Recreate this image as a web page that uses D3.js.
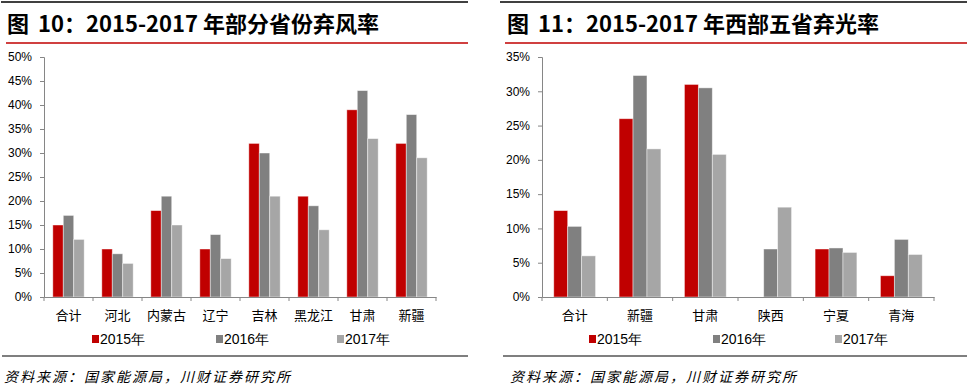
<!DOCTYPE html>
<html>
<head>
<meta charset="utf-8">
<script src="https://cdn.jsdelivr.net/npm/d3@7"></script>
<style>
  body { margin: 0; background: #fff; }
  svg { display: block; }
</style>
</head>
<body>
<svg id="chart" width="969" height="389"></svg>
<script>
// ---- data ----
const years = ["2015年", "2016年", "2017年"];

const windCats = ["合计", "河北", "内蒙古", "辽宁", "吉林", "黑龙江", "甘肃", "新疆"];
const wind2015 = [15, 10, 18, 10, 32, 21, 39, 32];
const wind2016 = [17, 9, 21, 13, 30, 19, 43, 38];
const wind2017 = [12, 7, 15, 8, 21, 14, 33, 29];
const windTicks = [0, 5, 10, 15, 20, 25, 30, 35, 40, 45, 50];

const solarCats = ["合计", "新疆", "甘肃", "陕西", "宁夏", "青海"];
const solar2015 = [12.6, 26.0, 31.0, null, 7.0, 3.1];
const solar2016 = [10.3, 32.3, 30.5, 7.0, 7.15, 8.4];
const solar2017 = [6.0, 21.6, 20.8, 13.1, 6.5, 6.2];
const solarTicks = [0, 5, 10, 15, 20, 25, 30, 35];

const colors = ["#C00000", "#808080", "#A6A6A6"];
const sourceText = "资料来源：国家能源局，川财证券研究所";

const svg = d3.select("#chart");

function drawPanel(p) {
  const g = svg.append("g");

  // header rules + title
  g.append("line")
    .attr("x1", p.ruleLeft).attr("x2", p.ruleRight)
    .attr("y1", 2).attr("y2", 2)
    .attr("stroke", "#000").attr("stroke-width", 1.5);

  g.append("text")
    .attr("x", p.titleX).attr("y", 32)
    .attr("font-family", "Noto Sans CJK SC")
    .attr("font-weight", "bold")
    .attr("font-size", "22px")
    .attr("fill", "#000")
    .text("图");

  g.append("text")
    .attr("x", p.titleX + 31).attr("y", 32)
    .attr("font-family", "Noto Sans CJK SC")
    .attr("font-weight", "bold")
    .attr("font-size", "22px")
    .attr("fill", "#000")
    .text(p.title);

  g.append("line")
    .attr("x1", p.redLeft).attr("x2", p.ruleRight)
    .attr("y1", 43).attr("y2", 43)
    .attr("stroke", "#C00000").attr("stroke-width", 1.5);

  // scales
  const x0 = d3.scaleBand()
    .domain(p.cats)
    .range([p.axisLeft, p.axisRight])
    .paddingInner(0).paddingOuter(0);

  const pad = x0.bandwidth() * 0.18;
  const x1 = d3.scaleBand()
    .domain(years)
    .range([pad, x0.bandwidth() - pad]);

  const y = d3.scaleLinear()
    .domain([0, p.yMax])
    .range([297, 57]);

  // bars
  const rows = [];
  p.cats.forEach((c, i) => {
    p.series.forEach((s, j) => {
      if (s[i] == null) return;
      rows.push({ cat: c, year: years[j], value: s[i], color: colors[j] });
    });
  });

  g.append("g").selectAll("rect")
    .data(rows)
    .join("rect")
    .attr("x", d => x0(d.cat) + x1(d.year))
    .attr("y", d => y(d.value))
    .attr("width", x1.bandwidth())
    .attr("height", d => y(0) - y(d.value))
    .attr("fill", d => d.color)
    .attr("stroke", "rgba(255,255,255,0.55)")
    .attr("stroke-width", 0.8);

  // y axis
  const yAxis = g.append("g")
    .attr("transform", `translate(${p.axisLeft},0)`)
    .call(d3.axisLeft(y).tickValues(p.ticks).tickFormat(d => d + "%").tickSize(4).tickPadding(8));
  yAxis.select(".domain").attr("stroke", "#868686");
  yAxis.selectAll(".tick line").attr("stroke", "#868686");
  yAxis.selectAll(".tick text")
    .attr("font-family", "Liberation Sans, Arial, sans-serif")
    .attr("font-size", "12px")
    .attr("fill", "#000");

  // x axis
  const xAxis = g.append("g")
    .attr("transform", `translate(0,${y(0)})`)
    .call(d3.axisBottom(x0).tickSize(0).tickPadding(14));
  xAxis.select(".domain").attr("stroke", "#868686");
  xAxis.selectAll(".tick text")
    .attr("font-family", "Noto Sans CJK SC")
    .attr("font-size", "13px")
    .attr("fill", "#000");

  // boundary ticks between categories
  const bounds = p.cats.map(c => x0(c)).concat([x0.range()[1]]);
  xAxis.append("g").selectAll("line")
    .data(bounds)
    .join("line")
    .attr("x1", d => d).attr("x2", d => d)
    .attr("y1", 0).attr("y2", 4)
    .attr("stroke", "#868686");

  // legend
  years.forEach((yr, j) => {
    const lx = p.legendX[j];
    g.append("rect")
      .attr("x", lx).attr("y", 335)
      .attr("width", 7).attr("height", 8)
      .attr("fill", colors[j]);
    g.append("text")
      .attr("x", lx + 8).attr("y", 344)
      .attr("font-family", "Liberation Sans Narrow, Liberation Sans, sans-serif")
      .attr("font-size", "14px")
      .attr("fill", "#000")
      .text(yr);
  });

  // footer
  g.append("line")
    .attr("x1", p.footLeft).attr("x2", p.ruleRight)
    .attr("y1", 356).attr("y2", 356)
    .attr("stroke", "#000").attr("stroke-width", 1.2);

  g.append("text")
    .attr("x", p.sourceX).attr("y", 382)
    .attr("font-family", "Noto Sans CJK SC")
    .attr("font-style", "italic")
    .attr("font-size", "14px")
    .attr("letter-spacing", "2px")
    .attr("fill", "#000")
    .text(sourceText);
}

drawPanel({
  title: "10：2015-2017 年部分省份弃风率",
  cats: windCats,
  series: [wind2015, wind2016, wind2017],
  ticks: windTicks,
  yMax: 50,
  axisLeft: 44, axisRight: 436,
  ruleLeft: 1, redLeft: 6, ruleRight: 468,
  titleX: 7,
  legendX: [92, 216, 337],
  footLeft: 2, sourceX: 4
});

drawPanel({
  title: "11：2015-2017 年西部五省弃光率",
  cats: solarCats,
  series: [solar2015, solar2016, solar2017],
  ticks: solarTicks,
  yMax: 35,
  axisLeft: 542, axisRight: 934,
  ruleLeft: 500, redLeft: 505, ruleRight: 967,
  titleX: 507,
  legendX: [589, 713, 835],
  footLeft: 503, sourceX: 510
});
</script>
</body>
</html>
